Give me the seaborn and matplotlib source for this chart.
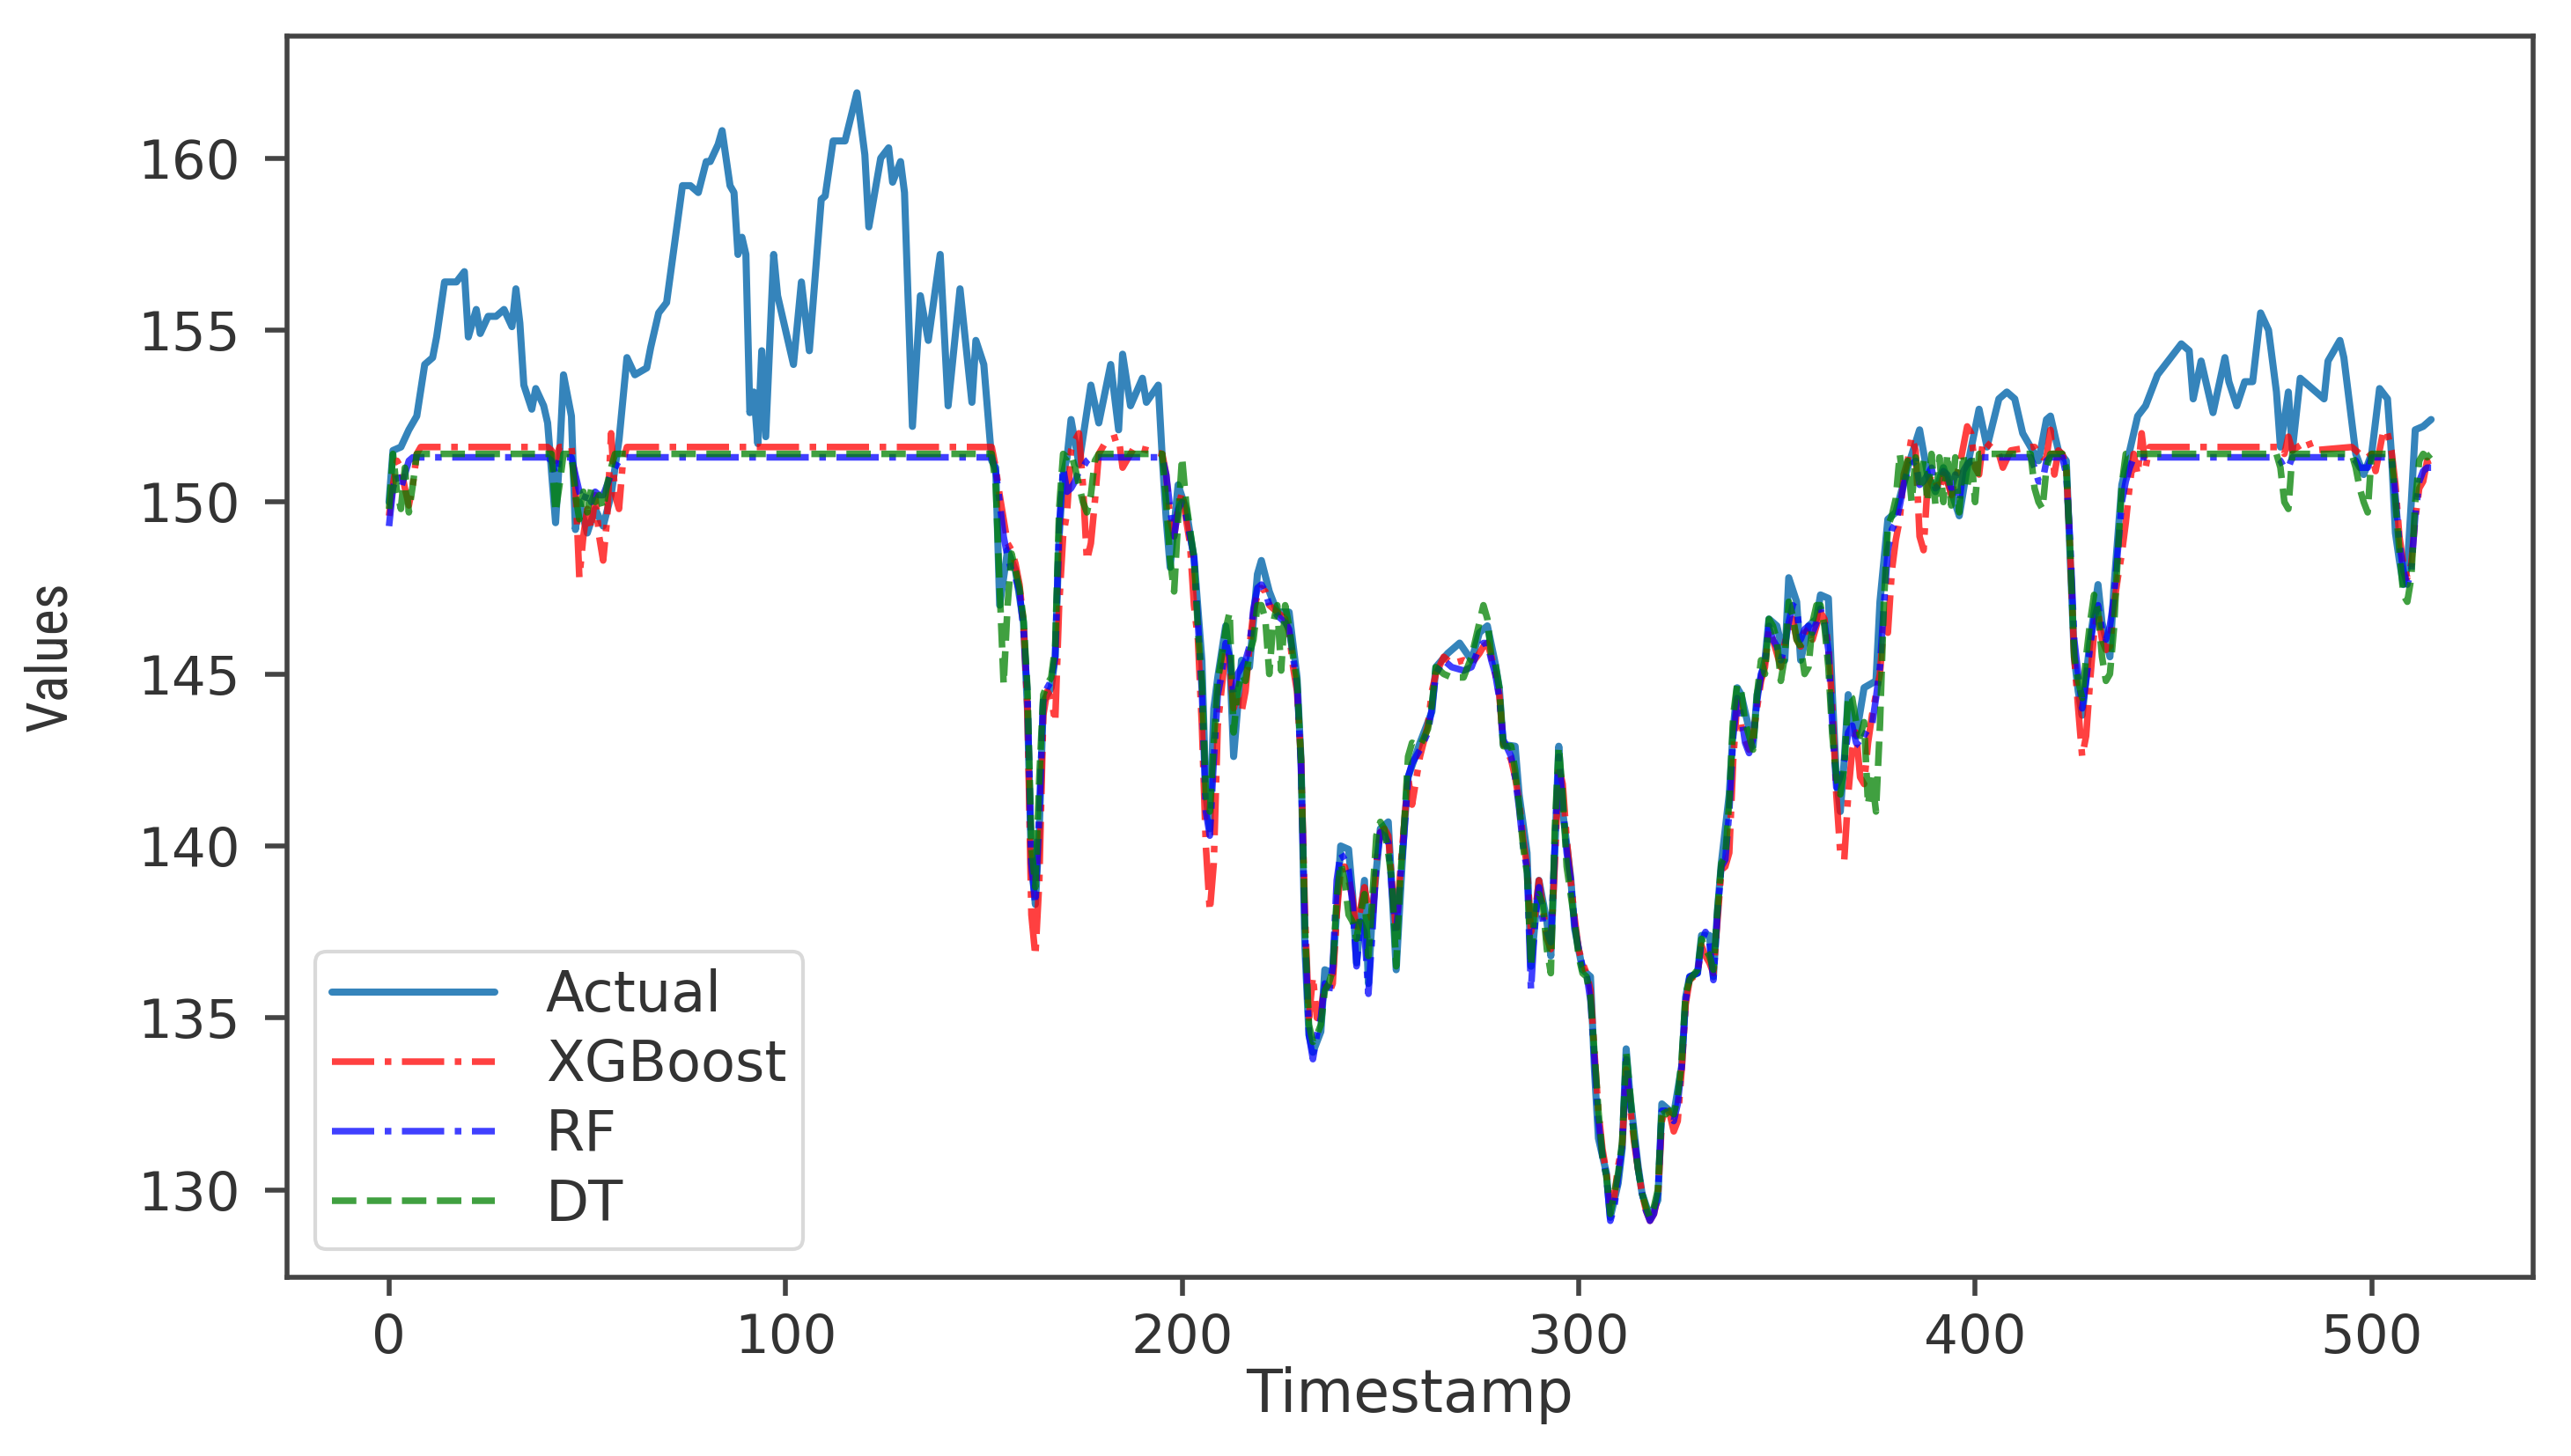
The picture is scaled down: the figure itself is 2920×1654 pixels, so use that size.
import matplotlib
matplotlib.use("Agg")
import matplotlib.pyplot as plt
from matplotlib import font_manager
import seaborn as sns
import pandas as pd

# ---------------- data ----------------
actual_ts = [0, 1, 3, 5, 7, 9, 11, 12, 14, 17, 19, 20, 22, 23, 25, 27, 29, 31, 32, 33,
             34, 36, 37, 39, 40, 42, 43, 44, 46, 47, 48, 50, 52, 54, 56, 58, 60, 62, 65, 66,
             68, 70, 72, 74, 76, 78, 80, 81, 83, 84, 86, 87, 88, 89, 90, 91, 92, 93, 94, 95,
             97, 98, 102, 104, 106, 109, 110, 112, 115, 118, 120, 121, 124, 126, 127, 129, 130, 132, 134, 136,
             139, 141, 144, 147, 148, 150, 152, 153, 154, 156, 158, 160, 161, 162, 163, 164, 165, 167, 168, 169,
             170, 171, 172, 174, 177, 179, 182, 184, 185, 187, 190, 191, 194, 195, 196, 197, 199, 201, 203, 205,
             206, 207, 208, 209, 211, 212, 213, 215, 217, 219, 220, 222, 224, 227, 229, 230, 231, 232, 233, 235,
             236, 238, 240, 242, 243, 244, 246, 247, 248, 250, 252, 253, 254, 256, 257, 260, 263, 264, 267, 270,
             273, 275, 277, 279, 280, 281, 284, 285, 287, 288, 290, 292, 293, 295, 296, 298, 299, 301, 303, 304,
             305, 307, 308, 310, 311, 312, 313, 315, 316, 318, 320, 321, 322, 324, 326, 327, 328, 330, 331, 333,
             334, 335, 336, 338, 339, 340, 341, 344, 345, 347, 348, 350, 352, 353, 355, 356, 358, 360, 361, 363,
             364, 365, 366, 367, 368, 370, 372, 375, 376, 378, 380, 383, 386, 388, 390, 392, 394, 396, 398, 401,
             403, 406, 408, 410, 412, 414, 416, 418, 419, 421, 423, 424, 425, 426, 427, 429, 431, 432, 434, 435,
             437, 439, 441, 443, 446, 450, 452, 454, 455, 457, 460, 463, 464, 466, 468, 470, 472, 474, 476, 477,
             479, 480, 482, 484, 486, 488, 489, 492, 493, 496, 498, 500, 502, 504, 505, 506, 507, 508, 509, 510,
             511, 513, 515]
actual = [150.0, 151.5, 151.6, 152.1, 152.5, 154.0, 154.2, 154.8, 156.4, 156.4, 156.7, 154.8, 155.6, 154.9, 155.4, 155.4, 155.6, 155.1, 156.2, 155.2,
          153.4, 152.7, 153.3, 152.8, 152.3, 149.4, 151.3, 153.7, 152.5, 149.2, 150.0, 149.1, 149.8, 149.3, 150.2, 151.8, 154.2, 153.7, 153.9, 154.5,
          155.5, 155.8, 157.5, 159.2, 159.2, 159.0, 159.9, 159.9, 160.4, 160.8, 159.2, 159.0, 157.2, 157.7, 157.2, 152.6, 153.2, 151.7, 154.4, 151.9,
          157.2, 156.0, 154.0, 156.4, 154.4, 158.8, 158.9, 160.5, 160.5, 161.9, 160.1, 158.0, 160.0, 160.3, 159.3, 159.9, 159.0, 152.2, 156.0, 154.7,
          157.2, 152.8, 156.2, 152.9, 154.7, 154.0, 151.2, 151.0, 147.0, 148.6, 148.0, 146.5, 144.0, 139.5, 138.3, 140.5, 144.2, 144.6, 145.5, 149.0,
          150.8, 151.3, 152.4, 151.1, 153.4, 152.3, 154.0, 152.1, 154.3, 152.8, 153.6, 152.9, 153.4, 151.3, 149.5, 148.1, 150.5, 149.8, 148.4, 145.4,
          141.5, 140.5, 144.0, 144.9, 146.4, 145.5, 142.6, 145.4, 145.2, 147.9, 148.3, 147.4, 146.8, 146.8, 144.9, 142.5, 137.0, 134.5, 134.0, 134.6,
          136.4, 136.3, 140.0, 139.9, 138.6, 136.6, 139.0, 136.0, 138.1, 140.5, 140.7, 138.6, 136.4, 140.5, 142.0, 143.0, 143.9, 145.2, 145.6, 145.9,
          145.4, 146.2, 146.4, 145.3, 144.6, 142.95, 142.9, 141.5, 139.8, 136.5, 139.0, 137.8, 136.8, 142.9, 141.0, 139.1, 137.6, 136.4, 136.2, 133.5,
          131.5, 130.5, 129.2, 130.2, 131.2, 134.1, 132.7, 130.7, 129.9, 129.2, 129.7, 132.5, 132.4, 132.2, 133.6, 135.6, 136.2, 136.3, 137.4, 137.4,
          136.2, 138.1, 139.5, 141.5, 143.4, 144.6, 144.4, 142.9, 144.4, 145.4, 146.6, 146.4, 145.4, 147.8, 147.1, 145.4, 146.4, 146.6, 147.3, 147.2,
          144.4, 142.0, 141.0, 142.5, 144.4, 143.2, 144.6, 144.8, 147.1, 149.5, 149.7, 151.0, 152.1, 150.8, 150.3, 151.0, 150.3, 149.6, 151.0, 152.7,
          151.6, 153.0, 153.2, 153.0, 152.0, 151.6, 151.2, 152.4, 152.5, 151.5, 151.2, 148.3, 145.5, 144.5, 143.8, 146.0, 147.6, 146.5, 145.5, 147.5,
          150.5, 151.5, 152.5, 152.8, 153.7, 154.3, 154.6, 154.4, 153.0, 154.1, 152.6, 154.2, 153.5, 152.8, 153.5, 153.5, 155.5, 155.0, 153.2, 151.6,
          153.2, 151.5, 153.6, 153.4, 153.2, 153.0, 154.1, 154.7, 154.2, 151.4, 150.8, 151.4, 153.3, 153.0, 151.4, 149.1, 148.3, 147.6, 148.1, 150.0,
          152.1, 152.2, 152.4]

pred_ts = [0, 1, 2, 3, 4, 5, 6, 7, 8, 20, 30, 40, 41, 42, 43, 44, 46, 47, 48, 49,
           50, 51, 52, 53, 54, 55, 56, 57, 58, 59, 60, 80, 100, 120, 140, 152, 153, 154, 155, 156,
           157, 158, 159, 160, 161, 162, 163, 164, 165, 166, 167, 168, 169, 170, 171, 172, 173, 174, 175, 176,
           177, 178, 179, 181, 184, 185, 186, 188, 195, 196, 197, 198, 199, 200, 201, 202, 203, 204, 205, 206,
           207, 208, 209, 210, 211, 212, 213, 214, 215, 216, 217, 218, 219, 220, 221, 222, 223, 224, 225, 226,
           227, 228, 229, 230, 231, 232, 233, 234, 235, 236, 237, 238, 239, 240, 241, 242, 243, 244, 245, 246,
           247, 248, 249, 250, 251, 252, 253, 254, 255, 256, 257, 258, 260, 262, 263, 264, 266, 268, 271, 273,
           275, 276, 277, 278, 279, 280, 281, 283, 284, 285, 286, 287, 288, 289, 290, 291, 292, 293, 294, 295,
           296, 297, 298, 299, 300, 301, 302, 303, 304, 305, 306, 307, 308, 309, 310, 311, 312, 313, 314, 315,
           316, 317, 318, 319, 320, 321, 322, 323, 324, 325, 326, 327, 328, 330, 331, 332, 333, 334, 335, 336,
           337, 338, 339, 340, 341, 342, 343, 344, 345, 346, 347, 348, 349, 350, 351, 352, 353, 354, 355, 356,
           357, 358, 359, 360, 361, 362, 363, 364, 365, 366, 367, 368, 369, 370, 371, 372, 373, 374, 375, 376,
           377, 378, 379, 380, 381, 382, 383, 384, 385, 386, 387, 388, 389, 390, 391, 392, 393, 394, 395, 396,
           397, 398, 399, 400, 401, 402, 404, 406, 407, 409, 414, 415, 416, 417, 418, 419, 420, 421, 422, 423,
           424, 425, 426, 427, 428, 429, 430, 431, 432, 433, 434, 435, 436, 437, 438, 439, 440, 441, 442, 443,
           444, 455, 465, 476, 477, 478, 479, 480, 484, 485, 495, 496, 497, 498, 499, 500, 501, 503, 504, 505,
           506, 507, 508, 509, 510, 511, 512, 513, 514, 515]
xgb = [149.6, 150.5, 151.2, 151.0, 150.4, 149.9, 150.5, 151.4, 151.6, 151.6, 151.6, 151.6, 151.5, 151.2, 151.6, 151.6, 151.6, 150.5, 147.8, 149.0,
       149.8, 149.2, 150.2, 149.0, 148.3, 149.5, 152.0, 150.2, 149.8, 151.2, 151.6, 151.6, 151.6, 151.6, 151.6, 151.6, 151.0, 150.2, 149.5, 148.8,
       148.6, 148.2, 147.6, 146.5, 144.0, 138.0, 136.8, 139.0, 143.8, 144.5, 144.3, 143.6, 147.0, 149.0, 149.7, 151.5, 151.8, 152.0, 150.5, 148.3,
       148.8, 150.0, 151.4, 151.8, 151.9, 151.0, 151.2, 151.6, 151.4, 150.8, 149.5, 149.0, 149.8, 150.3, 149.5, 148.8, 147.0, 146.0, 143.5, 140.0,
       138.1, 139.5, 143.5, 144.6, 145.7, 145.3, 144.0, 144.4, 143.9, 144.5, 145.8, 146.8, 147.3, 147.5, 147.4, 147.0, 146.9, 146.8, 146.7, 146.6,
       146.2, 145.2, 144.5, 142.5, 138.0, 135.0, 136.2, 135.0, 135.2, 136.0, 135.7, 136.0, 138.0, 139.3, 139.4, 139.0, 138.5, 137.5, 138.2, 138.8,
       138.2, 137.8, 139.5, 140.4, 140.5, 140.3, 138.8, 137.5, 139.2, 140.6, 142.0, 141.2, 142.6, 143.5, 144.5, 145.0, 145.5, 145.3, 145.4, 145.3,
       145.6, 145.8, 145.9, 145.5, 145.0, 144.4, 143.0, 142.5, 142.0, 141.3, 140.2, 139.4, 137.5, 138.0, 139.0, 138.2, 137.3, 137.0, 139.5, 142.3,
       141.8, 140.2, 139.0, 137.9, 137.0, 136.6, 136.3, 135.8, 134.0, 132.3, 131.2, 130.5, 129.6, 129.8, 130.7, 131.3, 133.5, 132.4, 131.4, 130.6,
       129.9, 129.4, 129.1, 129.3, 129.8, 132.0, 132.4, 132.2, 131.7, 132.0, 133.5, 135.4, 136.1, 136.3, 137.1, 136.8, 136.6, 136.3, 137.8, 139.3,
       139.4, 139.8, 142.5, 144.2, 143.5, 143.1, 142.8, 143.2, 144.0, 144.8, 145.2, 146.3, 146.0, 145.6, 145.2, 145.9, 146.3, 146.6, 146.0, 145.8,
       146.2, 146.3, 146.0, 146.4, 146.8, 146.6, 145.8, 144.0, 141.5, 139.8, 139.6, 141.5, 142.8, 143.3, 142.0, 141.8, 143.0, 143.8, 144.4, 145.0,
       146.5, 146.2, 148.0, 148.9, 149.5, 150.8, 151.2, 151.9, 151.5, 149.0, 148.6, 150.5, 150.8, 150.6, 150.3, 150.8, 150.6, 150.2, 150.7, 151.0,
       151.6, 152.2, 152.0, 151.0, 150.8, 151.8, 151.6, 151.4, 151.0, 151.5, 151.6, 151.6, 151.4, 151.3, 151.3, 152.1, 150.8, 151.5, 151.4, 151.0,
       148.5, 145.5, 144.0, 142.6, 143.2, 144.8, 146.2, 146.8, 146.0, 145.7, 145.8, 147.0, 147.8, 148.5, 149.4, 150.5, 151.4, 150.8, 152.0, 151.0,
       151.6, 151.6, 151.6, 151.6, 151.6, 151.4, 151.9, 151.5, 151.8, 151.5, 151.6, 151.5, 151.4, 151.3, 151.3, 151.4, 150.9, 152.1, 152.0, 151.5,
       150.5, 149.0, 148.2, 147.8, 148.2, 149.5, 150.4, 150.6, 151.2, 150.9]
rf = [149.3, 150.4, 150.8, 150.4, 150.8, 151.2, 151.3, 151.3, 151.3, 151.3, 151.3, 151.3, 151.2, 150.8, 151.3, 151.3, 151.3, 150.8, 150.3, 150.0,
      150.3, 150.0, 150.3, 150.2, 150.2, 150.5, 150.8, 151.0, 151.2, 151.3, 151.3, 151.3, 151.3, 151.3, 151.3, 151.3, 150.9, 150.0, 149.0, 148.4,
      148.0, 147.8, 147.4, 146.3, 144.5, 139.5, 138.3, 141.0, 144.3, 144.6, 144.8, 145.5, 149.3, 151.0, 150.3, 150.4, 150.6, 150.9, 151.0, 151.2,
      151.3, 151.3, 151.3, 151.3, 151.3, 151.3, 151.3, 151.3, 151.3, 150.8, 149.8, 149.0, 149.8, 150.0, 149.6, 149.0, 148.4, 146.5, 144.5, 141.0,
      140.3, 142.5, 144.4, 145.0, 145.9, 145.5, 144.4, 145.0, 145.2, 145.4, 145.8, 146.9, 147.5, 147.6, 147.4, 147.0, 146.9, 146.7, 146.6, 146.5,
      146.3, 145.5, 144.7, 142.3, 137.5, 134.5, 133.8, 134.5, 135.0, 136.0, 135.7, 136.5, 139.0, 139.8, 139.6, 139.3, 138.3, 136.5, 137.8, 137.5,
      135.7, 137.5, 139.5, 140.4, 140.3, 140.1, 138.6, 137.4, 139.0, 140.3, 142.0, 142.4, 142.8, 143.3, 144.0, 145.0, 145.4, 145.2, 145.1, 145.2,
      145.8, 145.9, 145.9, 145.4, 145.0, 144.3, 143.1, 142.6, 142.0, 141.1, 140.0, 139.3, 135.8, 137.8, 138.8, 137.8, 137.5, 137.2, 140.0, 142.6,
      141.2, 139.8, 139.0, 137.7, 137.0, 136.5, 136.3, 135.5, 133.8, 132.0, 131.0, 130.4, 129.1, 129.5, 130.4, 131.3, 133.8, 132.5, 131.6, 130.6,
      129.9, 129.4, 129.1, 129.3, 129.9, 132.3, 132.3, 132.1, 132.0, 132.5, 133.6, 135.5, 136.2, 136.3, 137.2, 137.5, 137.2, 136.1, 138.0, 139.4,
      139.6, 141.0, 143.2, 144.3, 143.8, 143.0, 142.7, 143.1, 144.2, 145.0, 145.3, 146.4, 146.0, 145.8, 145.4, 145.8, 146.5, 147.0, 146.9, 146.0,
      146.3, 146.4, 146.2, 146.5, 146.9, 146.5, 145.7, 143.5, 141.7, 142.0, 142.5, 143.3, 143.5, 143.0, 142.9, 143.2, 143.4, 143.5, 144.3, 145.2,
      147.0, 148.6, 149.2, 149.4, 149.9, 150.5, 150.9, 151.1, 151.2, 150.5, 150.6, 150.8, 151.0, 150.4, 150.5, 150.9, 150.8, 150.4, 150.8, 150.0,
      150.9, 151.1, 151.2, 151.2, 151.3, 151.3, 151.3, 151.3, 151.3, 151.3, 151.3, 151.0, 150.6, 150.6, 151.2, 151.3, 151.3, 151.3, 151.3, 150.8,
      148.8, 146.0, 145.0, 144.0, 144.8, 145.8, 146.6, 147.0, 146.3, 146.0, 146.4, 147.2, 148.6, 150.0, 150.6, 151.0, 151.3, 151.3, 151.3, 151.3,
      151.3, 151.3, 151.3, 151.3, 151.2, 151.0, 151.0, 151.3, 151.3, 151.3, 151.3, 151.2, 151.0, 151.0, 151.0, 151.3, 151.3, 151.3, 151.3, 151.3,
      150.2, 148.8, 148.0, 147.6, 148.0, 149.6, 150.6, 150.9, 151.0, 151.0]
dt = [149.8, 151.4, 150.3, 149.8, 151.0, 149.7, 150.5, 151.4, 151.4, 151.4, 151.4, 151.4, 151.4, 149.7, 150.5, 151.4, 151.4, 150.2, 149.5, 150.3,
      149.7, 150.4, 150.0, 150.2, 149.8, 150.5, 151.0, 151.4, 151.4, 151.4, 151.4, 151.4, 151.4, 151.4, 151.4, 151.4, 150.5, 147.5, 144.7, 147.0,
      148.5, 148.0, 147.5, 146.6, 144.6, 140.0, 138.8, 142.0, 144.4, 144.7, 144.9, 145.8, 149.8, 151.4, 151.3, 151.4, 151.0, 150.5, 150.0, 149.7,
      150.2, 151.2, 151.4, 151.4, 151.4, 151.4, 151.4, 151.4, 151.4, 150.0, 148.3, 147.4, 149.5, 151.3, 150.0, 149.2, 148.4, 146.3, 144.8, 141.5,
      141.0, 143.0, 144.8, 145.5, 146.3, 146.8, 143.3, 144.5, 145.0, 144.8, 145.6, 146.0, 147.0, 147.0, 146.6, 145.0, 146.5, 147.0, 145.1, 147.0,
      146.4, 145.5, 144.8, 142.5, 137.6, 134.8, 134.3, 134.5, 134.8, 135.8, 136.0, 136.4, 138.5, 139.5, 139.0, 138.0, 137.8, 137.3, 138.0, 138.6,
      136.8, 138.5, 140.3, 140.7, 140.5, 139.8, 138.9, 136.5, 139.0, 140.6, 142.6, 143.0, 142.9, 143.4, 144.1, 145.2, 145.0, 144.9, 144.9, 145.5,
      146.5, 147.0, 146.6, 145.5, 145.3, 144.6, 142.9, 142.9, 142.2, 141.2, 140.0, 139.2, 136.5, 138.5, 138.6, 138.3, 137.0, 136.3, 140.5, 142.9,
      141.5, 139.4, 138.6, 137.8, 136.8, 136.3, 136.2, 135.6, 134.0, 132.3, 131.0, 130.4, 129.3, 129.9, 130.5, 131.4, 134.0, 132.8, 131.5, 130.6,
      129.9, 129.5, 129.2, 129.5, 130.0, 132.4, 132.2, 132.3, 132.2, 132.7, 133.8, 135.7, 136.1, 136.4, 137.3, 137.0, 136.8, 136.4, 138.1, 139.5,
      139.7, 141.3, 143.8, 144.7, 144.5, 143.6, 143.2, 142.8, 144.4, 145.4, 145.0, 146.6, 146.4, 146.0, 144.8, 145.5, 147.1, 146.7, 146.0, 145.8,
      145.0, 145.2, 146.5, 147.0, 147.0, 146.4, 145.2, 143.2, 142.0, 141.5, 142.3, 144.4, 144.3, 143.6, 143.2, 143.6, 141.2, 142.0, 141.0, 143.5,
      147.1, 149.3, 149.6, 150.1, 151.4, 150.5, 151.2, 150.0, 151.3, 150.4, 151.2, 150.0, 151.4, 149.9, 151.3, 150.0, 151.4, 149.9, 151.3, 149.7,
      151.4, 150.4, 151.4, 150.0, 151.4, 151.4, 151.4, 151.4, 151.4, 151.4, 151.4, 150.4, 150.0, 149.8, 151.0, 151.4, 151.4, 151.4, 151.4, 151.0,
      148.5, 145.5, 144.8, 144.3, 145.5, 146.5, 147.3, 146.8, 145.5, 144.8, 145.0, 146.3, 148.5, 150.5, 151.4, 151.4, 151.4, 151.4, 151.4, 151.4,
      151.4, 151.4, 151.4, 151.4, 151.0, 150.0, 149.8, 151.4, 151.4, 151.4, 151.4, 151.0, 150.4, 150.0, 149.7, 151.4, 151.4, 151.4, 151.4, 151.4,
      150.0, 148.6, 147.3, 147.1, 147.8, 150.0, 151.2, 151.4, 151.3, 151.4]

x_ticks = [0, 100, 200, 300, 400, 500]
y_ticks = [130, 135, 140, 145, 150, 155, 160]

# ---------------- style ----------------
sns.set_theme(style="ticks")
plt.rcParams["font.family"] = ["DejaVu Sans"]

fig, ax = plt.subplots(figsize=(14.6, 8.27), dpi=200)
fig.subplots_adjust(left=0.1116, right=0.9853, top=0.975, bottom=0.1228)

lw = 2.7
sns.lineplot(x=actual_ts, y=actual, ax=ax, color="#1f77b4", lw=lw + 0.2, alpha=0.9,
             label="Actual", errorbar=None)
sns.lineplot(x=pred_ts, y=xgb, ax=ax, color="red", lw=lw, alpha=0.75, linestyle="-.",
             label="XGBoost", errorbar=None)
sns.lineplot(x=pred_ts, y=rf, ax=ax, color="blue", lw=lw, alpha=0.75, linestyle="-.",
             label="RF", errorbar=None)
sns.lineplot(x=pred_ts, y=dt, ax=ax, color="green", lw=lw, alpha=0.75, linestyle="--",
             label="DT", errorbar=None)

ax.set_xticks(x_ticks)
ax.set_yticks(y_ticks)

spine_col = "#444444"
for s in ax.spines.values():
    s.set_visible(True)
    s.set_color(spine_col)
    s.set_linewidth(2.0)

ax.tick_params(axis="x", length=7.5, width=2.0, pad=7, labelsize=22,
               colors=spine_col, labelcolor="#333333")
ax.tick_params(axis="y", length=9, width=2.0, pad=10, labelsize=22,
               colors=spine_col, labelcolor="#333333")

ax.set_xlabel("Timestamp", fontsize=24, color="#333333", va="top")
ax.xaxis.set_label_coords(0.5, -0.072)

names = {f.name for f in font_manager.fontManager.ttflist}
yfam = "DejaVu Sans"
for cand in ["Liberation Sans Narrow", "DejaVu Sans Condensed", "Roboto Condensed",
             "Open Sans Condensed"]:
    if cand in names:
        yfam = cand
        break
if yfam == "DejaVu Sans":
    ax.set_ylabel("Values", fontsize=20, family=yfam, color="#333333")
else:
    ax.set_ylabel("Values", fontsize=23, family=yfam, color="#333333")
ax.yaxis.set_label_coords(-0.093, 0.5)

leg = ax.legend(loc="lower left", fontsize=23, labelspacing=0.27, borderpad=0.3,
                handlelength=2.9, handletextpad=0.9, frameon=True, fancybox=True)
leg.get_frame().set_edgecolor("#d0d0d0")
leg.get_frame().set_linewidth(1.5)
for t in leg.get_texts():
    t.set_color("#333333")

fig.savefig("out.png", dpi=200)
